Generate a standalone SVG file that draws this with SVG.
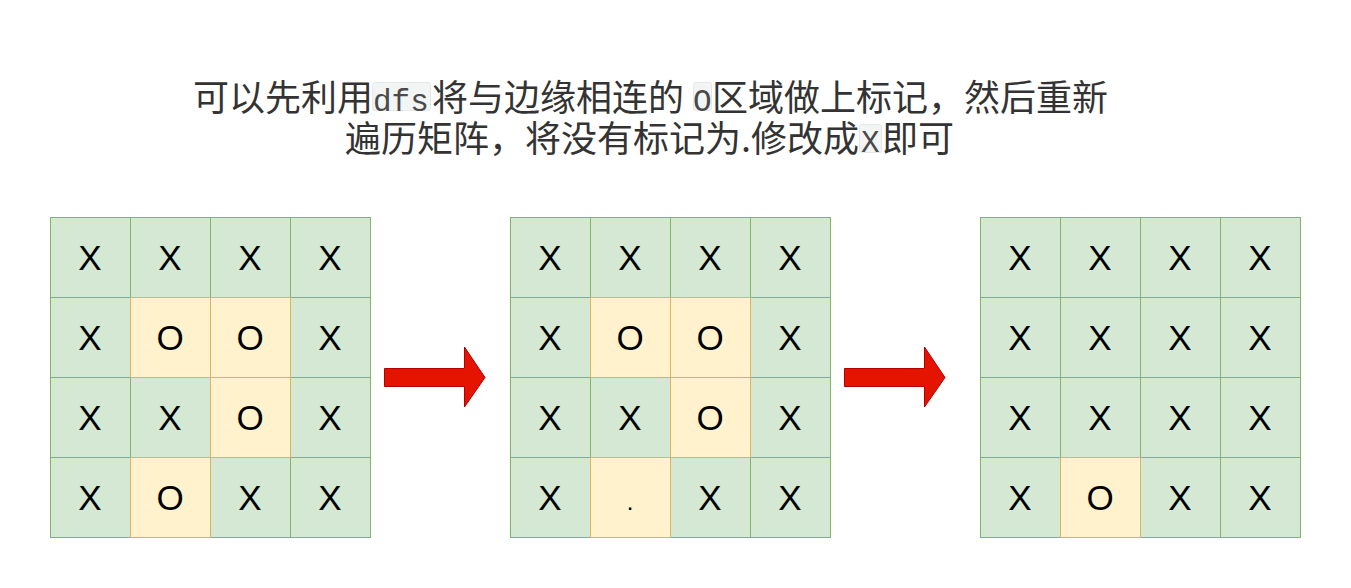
<svg xmlns="http://www.w3.org/2000/svg" width="1351" height="588" viewBox="0 0 1351 588">
<style>
.t{font-family:"Noto Sans CJK SC","Noto Sans",sans-serif;font-size:36px;fill:#333333}
.m{font-family:"Liberation Mono",monospace;font-size:31px;fill:#4a4a4a}
.cb{fill:#f3f4f4;stroke:#e5e8ea;stroke-width:1}
.g{fill:#d5e8d4;stroke:#82b366;stroke-width:1}
.y{fill:#fff2cc;stroke:#d6b656;stroke-width:1}
.c{font-family:"Liberation Sans",Arial,sans-serif;font-size:35px;fill:#000000;text-anchor:middle}
.ar{fill:#e51400;stroke:#b20000;stroke-width:1}
</style>
<rect width="1351" height="588" fill="#ffffff"/>
<g id="title">
<rect class="cb" x="372.5" y="82.5" width="58" height="28" rx="2"/>
<rect class="cb" x="693.5" y="82.5" width="18" height="28" rx="2"/>
<rect class="cb" x="859.5" y="124.5" width="22" height="28" rx="2"/>
<text class="t" y="111"><tspan x="193">可以先利用</tspan><tspan class="m" x="373">dfs</tspan><tspan x="432">将与边缘相连的</tspan><tspan class="m" x="693">O</tspan><tspan x="712">区域做上标记，然后重新</tspan></text>
<text class="t" y="152"><tspan x="345">遍历矩阵，将没有标记为.修改成</tspan><tspan class="m" x="861">X</tspan><tspan x="882">即可</tspan></text>
</g>
<g id="grid1">
<rect class="g" x="50.5" y="217.5" width="80" height="80"/><rect class="g" x="130.5" y="217.5" width="80" height="80"/><rect class="g" x="210.5" y="217.5" width="80" height="80"/><rect class="g" x="290.5" y="217.5" width="80" height="80"/>
<rect class="g" x="50.5" y="297.5" width="80" height="80"/><rect class="g" x="290.5" y="297.5" width="80" height="80"/>
<rect class="g" x="50.5" y="377.5" width="80" height="80"/><rect class="g" x="130.5" y="377.5" width="80" height="80"/><rect class="g" x="290.5" y="377.5" width="80" height="80"/>
<rect class="g" x="50.5" y="457.5" width="80" height="80"/><rect class="g" x="210.5" y="457.5" width="80" height="80"/><rect class="g" x="290.5" y="457.5" width="80" height="80"/>
<rect class="y" x="130.5" y="297.5" width="80" height="80"/><rect class="y" x="210.5" y="297.5" width="80" height="80"/>
<rect class="y" x="210.5" y="377.5" width="80" height="80"/>
<rect class="y" x="130.5" y="457.5" width="80" height="80"/>
<text class="c" x="90" y="270">X</text><text class="c" x="170" y="270">X</text><text class="c" x="250" y="270">X</text><text class="c" x="330" y="270">X</text>
<text class="c" x="90" y="350">X</text><text class="c" x="170" y="350">O</text><text class="c" x="250" y="350">O</text><text class="c" x="330" y="350">X</text>
<text class="c" x="90" y="430">X</text><text class="c" x="170" y="430">X</text><text class="c" x="250" y="430">O</text><text class="c" x="330" y="430">X</text>
<text class="c" x="90" y="510">X</text><text class="c" x="170" y="510">O</text><text class="c" x="250" y="510">X</text><text class="c" x="330" y="510">X</text>
</g>
<g id="grid2">
<rect class="g" x="510.5" y="217.5" width="80" height="80"/><rect class="g" x="590.5" y="217.5" width="80" height="80"/><rect class="g" x="670.5" y="217.5" width="80" height="80"/><rect class="g" x="750.5" y="217.5" width="80" height="80"/>
<rect class="g" x="510.5" y="297.5" width="80" height="80"/><rect class="g" x="750.5" y="297.5" width="80" height="80"/>
<rect class="g" x="510.5" y="377.5" width="80" height="80"/><rect class="g" x="590.5" y="377.5" width="80" height="80"/><rect class="g" x="750.5" y="377.5" width="80" height="80"/>
<rect class="g" x="510.5" y="457.5" width="80" height="80"/><rect class="g" x="670.5" y="457.5" width="80" height="80"/><rect class="g" x="750.5" y="457.5" width="80" height="80"/>
<rect class="y" x="590.5" y="297.5" width="80" height="80"/><rect class="y" x="670.5" y="297.5" width="80" height="80"/>
<rect class="y" x="670.5" y="377.5" width="80" height="80"/>
<rect class="y" x="590.5" y="457.5" width="80" height="80"/>
<text class="c" x="550" y="270">X</text><text class="c" x="630" y="270">X</text><text class="c" x="710" y="270">X</text><text class="c" x="790" y="270">X</text>
<text class="c" x="550" y="350">X</text><text class="c" x="630" y="350">O</text><text class="c" x="710" y="350">O</text><text class="c" x="790" y="350">X</text>
<text class="c" x="550" y="430">X</text><text class="c" x="630" y="430">X</text><text class="c" x="710" y="430">O</text><text class="c" x="790" y="430">X</text>
<text class="c" x="550" y="510">X</text><text class="c" x="630" y="510" style="font-size:24px">.</text><text class="c" x="710" y="510">X</text><text class="c" x="790" y="510">X</text>
</g>
<g id="grid3">
<rect class="g" x="980.5" y="217.5" width="80" height="80"/><rect class="g" x="1060.5" y="217.5" width="80" height="80"/><rect class="g" x="1140.5" y="217.5" width="80" height="80"/><rect class="g" x="1220.5" y="217.5" width="80" height="80"/>
<rect class="g" x="980.5" y="297.5" width="80" height="80"/><rect class="g" x="1060.5" y="297.5" width="80" height="80"/><rect class="g" x="1140.5" y="297.5" width="80" height="80"/><rect class="g" x="1220.5" y="297.5" width="80" height="80"/>
<rect class="g" x="980.5" y="377.5" width="80" height="80"/><rect class="g" x="1060.5" y="377.5" width="80" height="80"/><rect class="g" x="1140.5" y="377.5" width="80" height="80"/><rect class="g" x="1220.5" y="377.5" width="80" height="80"/>
<rect class="g" x="980.5" y="457.5" width="80" height="80"/><rect class="g" x="1140.5" y="457.5" width="80" height="80"/><rect class="g" x="1220.5" y="457.5" width="80" height="80"/>
<rect class="y" x="1060.5" y="457.5" width="80" height="80"/>
<text class="c" x="1020" y="270">X</text><text class="c" x="1100" y="270">X</text><text class="c" x="1180" y="270">X</text><text class="c" x="1260" y="270">X</text>
<text class="c" x="1020" y="350">X</text><text class="c" x="1100" y="350">X</text><text class="c" x="1180" y="350">X</text><text class="c" x="1260" y="350">X</text>
<text class="c" x="1020" y="430">X</text><text class="c" x="1100" y="430">X</text><text class="c" x="1180" y="430">X</text><text class="c" x="1260" y="430">X</text>
<text class="c" x="1020" y="510">X</text><text class="c" x="1100" y="510">O</text><text class="c" x="1180" y="510">X</text><text class="c" x="1260" y="510">X</text>
</g>
<g id="connectors">
<path class="ar" d="M384.5 368.5 H464.5 V347 L485 377.5 L464.5 407 V386.5 H384.5 Z"/>
<path class="ar" d="M844.5 368.5 H924.5 V347 L945 377.5 L924.5 407 V386.5 H844.5 Z"/>
</g>
</svg>
